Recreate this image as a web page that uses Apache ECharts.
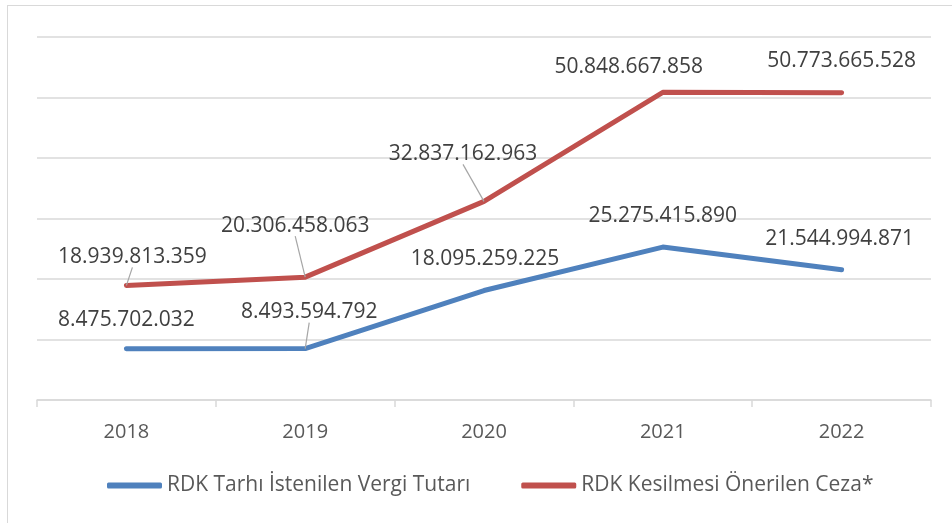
<!DOCTYPE html>
<html>
<head>
<meta charset="utf-8">
<script src="https://cdn.jsdelivr.net/npm/echarts@6/dist/echarts.min.js"></script>
<style>
html,body{margin:0;padding:0;background:#fff;}
#frame{position:absolute;left:7px;top:5px;width:960px;height:530px;border:1.5px solid #d9d9d9;box-sizing:border-box;}
#chart{position:absolute;left:0;top:0;width:952px;height:523px;}
</style>
</head>
<body>
<div id="frame"></div>
<div id="chart"></div>
<script>
const categories = ['2018', '2019', '2020', '2021', '2022'];
const seriesNames = ['RDK Tarhı İstenilen Vergi Tutarı', 'RDK Kesilmesi Önerilen Ceza*'];
const vergiTutari = [8475702032, 8493594792, 18095259225, 25275415890, 21544994871];
const ceza = [18939813359, 20306458063, 32837162963, 50848667858, 50773665528];

// label placement (Excel-style manual label offsets), not data
const blueOffsets = [[0, -13], [4, -21], [1, -16], [0, -16], [-2, -15]];
const redOffsets = [[6, -13], [-10, -36], [-21, -32], [-34, -10], [0, -16]];
const blueLeader = [false, true, false, false, false];
const redLeader = [true, true, true, false, false];

function fmt(v) {
  return String(v).replace(/\B(?=(\d{3})+(?!\d))/g, '.');
}
function items(values, leaders) {
  return values.map((v, i) => ({ value: v, labelLine: { show: leaders[i] } }));
}

const chart = echarts.init(document.getElementById('chart'), null, { renderer: 'canvas' });
const font = 'Open Sans';
const labelCommon = {
  show: true,
  position: 'top',
  distance: 5,
  fontFamily: font,
  fontSize: 21,
  color: '#404040',
  formatter: p => fmt(p.value)
};
chart.setOption({
  animation: false,
  backgroundColor: 'transparent',
  grid: { left: 37, right: 21, top: 37, bottom: 123, containLabel: false },
  legend: {
    left: 107,
    top: 475,
    padding: 0,
    itemWidth: 55,
    itemHeight: 6,
    itemGap: 51,
    icon: 'roundRect',
    textStyle: { fontFamily: font, fontSize: 21, color: '#595959' },
    data: seriesNames
  },
  xAxis: {
    type: 'category',
    data: categories,
    boundaryGap: true,
    axisLine: { show: true, lineStyle: { color: '#d9d9d9', width: 1.5 } },
    axisTick: { show: true, length: 7, lineStyle: { color: '#d9d9d9', width: 1.5 } },
    axisLabel: { margin: 22, fontFamily: font, fontSize: 20, color: '#595959' },
    splitLine: { show: false }
  },
  yAxis: {
    type: 'value',
    min: 0,
    max: 60000000000,
    interval: 10000000000,
    axisLine: { show: false },
    axisTick: { show: false },
    axisLabel: { show: false },
    splitLine: { show: true, lineStyle: { color: '#d9d9d9', width: 1.5 } }
  },
  series: [
    {
      name: seriesNames[0],
      type: 'line',
      data: items(vergiTutari, blueLeader),
      symbol: 'circle',
      symbolSize: 0.01,
      showSymbol: true,
      color: '#4f81bd',
      itemStyle: { color: '#4f81bd' },
      lineStyle: { color: '#4f81bd', width: 5, cap: 'round', join: 'round' },
      label: labelCommon,
      labelLine: { show: false, lineStyle: { color: '#a6a6a6', width: 1.2 } },
      labelLayout: p => ({ dx: blueOffsets[p.dataIndex][0], dy: blueOffsets[p.dataIndex][1] })
    },
    {
      name: seriesNames[1],
      type: 'line',
      data: items(ceza, redLeader),
      symbol: 'circle',
      symbolSize: 0.01,
      showSymbol: true,
      color: '#c0504d',
      itemStyle: { color: '#c0504d' },
      lineStyle: { color: '#c0504d', width: 5, cap: 'round', join: 'round' },
      label: labelCommon,
      labelLine: { show: false, lineStyle: { color: '#a6a6a6', width: 1.2 } },
      labelLayout: p => ({ dx: redOffsets[p.dataIndex][0], dy: redOffsets[p.dataIndex][1] })
    }
  ]
});
</script>
</body>
</html>
